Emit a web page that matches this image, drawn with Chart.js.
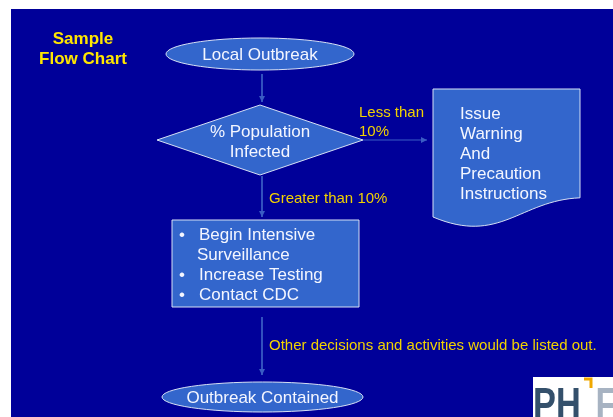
<!DOCTYPE html>
<html>
<head>
<meta charset="utf-8">
<script src="https://cdn.jsdelivr.net/npm/chart.js@4"></script>
<style>
html,body{margin:0;padding:0;background:#fff;overflow:hidden;}
canvas{display:block;}
</style>
</head>
<body>
<canvas id="flow" width="613" height="417"></canvas>
<script>
'use strict';
// diagram content
const titleLines=['Sample','Flow Chart'];
const nodeKinds=['terminal','decision','document','process','terminal'];
const nodeLines=[
  ['Local Outbreak'],
  ['% Population','Infected'],
  ['Issue','Warning','And','Precaution','Instructions'],
  ['\u2022Begin Intensive',' Surveillance','\u2022Increase Testing','\u2022Contact CDC'],
  ['Outbreak Contained'],
];
// node centres in diagram units (same units as the scales)
const nodeX=[260,260,506.5,265.5,262.5];
const nodeY=[54,140,153,263.5,397];
const edgeFrom=[[262,74],[363,140],[262,176],[262,317]];
const edgeTo=[[262,102],[427,140],[262,217],[262,375]];
const edgeLabels=[[],['Less than','10%'],['Greater than 10%'],['Other decisions and activities would be listed out.']];
const edgeLabelAt=[[0,0],[359,112],[269,198],[269,345]];

const BG='#000099',FILL='#3366CC',EDGE='#3a5cc4',YEL='#F2D200';
const nodeSize={terminal0:[188,32],decision:[206,70],document:[147,128],process:[187,87],terminal4:[201,30]};

function sizeOf(i){
  const k=nodeKinds[i];
  return nodeSize[k]||nodeSize[k+i];
}

const flowPlugin={
  id:'flow',
  beforeDraw(chart){
    const {ctx,scales:{x,y}}=chart;
    ctx.save();
    ctx.fillStyle='#fff';
    ctx.fillRect(0,0,chart.width,chart.height);
    ctx.fillStyle=BG;
    ctx.fillRect(x.getPixelForValue(11),y.getPixelForValue(9),chart.width,chart.height);
    ctx.restore();
  },
  afterDatasetsDraw(chart){
    const {ctx,scales:{x,y}}=chart;
    const px=v=>x.getPixelForValue(v),py=v=>y.getPixelForValue(v);
    ctx.save();
    // arrow heads
    ctx.fillStyle=EDGE;
    edgeTo.forEach((t,i)=>{
      const f=edgeFrom[i];
      const ex=px(t[0]),ey=py(t[1]);
      const a=Math.atan2(ey-py(f[1]),ex-px(f[0]));
      ctx.beginPath();
      ctx.moveTo(ex,ey);
      ctx.lineTo(ex-6*Math.cos(a)+3*Math.sin(a),ey-6*Math.sin(a)-3*Math.cos(a));
      ctx.lineTo(ex-6*Math.cos(a)-3*Math.sin(a),ey-6*Math.sin(a)+3*Math.cos(a));
      ctx.closePath();ctx.fill();
    });
    // nodes
    nodeKinds.forEach((k,i)=>{
      const [w,h]=sizeOf(i);
      const cx=px(nodeX[i]),cy=py(nodeY[i]);
      const l=cx-w/2,t=cy-h/2;
      ctx.beginPath();
      if(k==='terminal'){
        ctx.ellipse(cx,cy,w/2,h/2,0,0,Math.PI*2);
      }else if(k==='decision'){
        ctx.moveTo(l,cy);ctx.lineTo(cx,t);ctx.lineTo(l+w,cy);ctx.lineTo(cx,t+h);ctx.closePath();
      }else if(k==='document'){
        ctx.moveTo(l,t);ctx.lineTo(l+w,t);ctx.lineTo(l+w,t+h*0.85);
        ctx.bezierCurveTo(l+w*0.59,t+h*0.87,l+w*0.456,t+h*1.22,l,t+h);
        ctx.closePath();
      }else{
        ctx.rect(l,t,w,h);
      }
      ctx.fillStyle=FILL;ctx.fill();
      ctx.strokeStyle='#D6E0F5';ctx.lineWidth=1;ctx.stroke();
      // text
      ctx.fillStyle='#F4F6FF';
      ctx.font='17px "Liberation Sans", Arial, sans-serif';
      ctx.textBaseline='middle';
      const lines=nodeLines[i];
      if(k==='document'){
        ctx.textAlign='left';
        lines.forEach((s,j)=>ctx.fillText(s,px(460),py(114+j*20.2)));
      }else if(k==='process'){
        ctx.textAlign='left';
        lines.forEach((s,j)=>{
          const yy=py(235+j*20);
          if(s[0]==='\u2022'){
            ctx.fillText('\u2022',px(179),yy);
            ctx.fillText(s.slice(1),px(199),yy);
          }else ctx.fillText(s.trim(),px(197),yy);
        });
      }else{
        ctx.textAlign='center';
        const top=k==='decision'?nodeY[i]-8:nodeY[i]+1.5-(lines.length-1)*10;
        lines.forEach((s,j)=>ctx.fillText(s,px(nodeX[i]),py(top+j*20)));
      }
    });
    // edge labels
    ctx.fillStyle=YEL;
    ctx.font='15px "Liberation Sans", Arial, sans-serif';
    ctx.textAlign='left';ctx.textBaseline='middle';
    edgeLabels.forEach((ls,i)=>ls.forEach((s,j)=>ctx.fillText(s,px(edgeLabelAt[i][0]),py(edgeLabelAt[i][1]+1+j*19))));
    // title
    ctx.fillStyle='#FFE600';
    ctx.font='bold 17px "Liberation Sans", Arial, sans-serif';
    ctx.textAlign='center';
    titleLines.forEach((s,j)=>ctx.fillText(s,px(83),py(39+j*20)));
    // logo corner
    ctx.fillStyle='#fff';
    ctx.fillRect(px(533),py(377),chart.width,chart.height);
    ctx.save();
    ctx.translate(px(533),py(419));
    ctx.scale(0.78,1);
    ctx.fillStyle='#34506B';
    ctx.font='bold 44px "Liberation Sans", Arial, sans-serif';
    ctx.textAlign='left';ctx.textBaseline='alphabetic';
    ctx.fillText('PH',0,0);
    ctx.fillStyle='#A7B3C2';
    ctx.fillText('F',80,0);
    ctx.restore();
    ctx.strokeStyle='#F0A800';ctx.lineWidth=3;
    ctx.beginPath();ctx.moveTo(px(584),py(379));ctx.lineTo(px(591),py(379));ctx.lineTo(px(591),py(388));ctx.stroke();
    ctx.restore();
  }
};

new Chart(document.getElementById('flow'),{
  type:'scatter',
  data:{
    datasets:edgeFrom.map((f,i)=>({
      data:[{x:f[0],y:f[1]},{x:edgeTo[i][0],y:edgeTo[i][1]}],
      showLine:true,borderColor:EDGE,borderWidth:1,pointRadius:0,
    })),
  },
  options:{
    responsive:false,animation:false,events:[],
    layout:{padding:0},
    plugins:{legend:{display:false},tooltip:{enabled:false}},
    scales:{
      x:{type:'linear',min:0,max:613,display:false},
      y:{type:'linear',min:0,max:417,reverse:true,display:false},
    },
  },
  plugins:[flowPlugin],
});
</script>
</body>
</html>
